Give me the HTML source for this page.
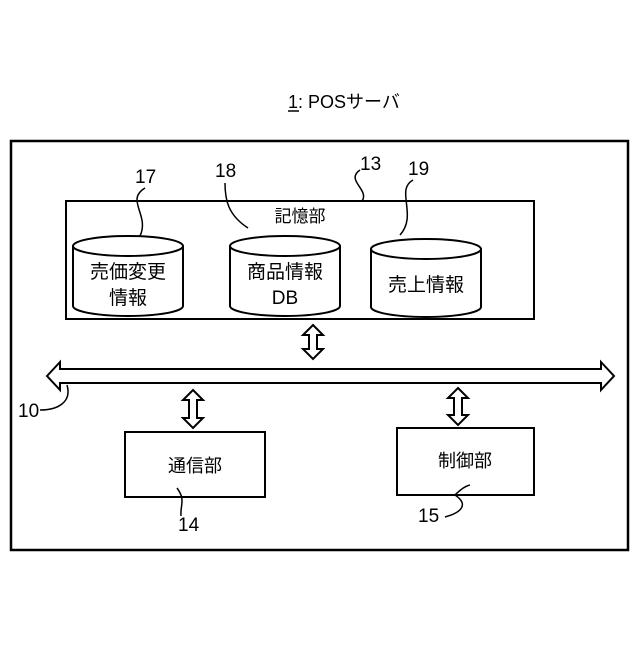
<!DOCTYPE html>
<html><head><meta charset="utf-8"><style>
body{margin:0;background:#fff;}
svg text{font-family:"Liberation Sans","Noto Sans CJK JP",sans-serif;fill:#000;}
</style></head><body>
<svg width="640" height="640" viewBox="0 0 640 640" xmlns="http://www.w3.org/2000/svg">
<rect width="640" height="640" fill="#fff"/>
<text x="288" y="108" font-size="18">1: POSサーバ</text>
<line x1="288" y1="111" x2="299" y2="111" stroke="#000" stroke-width="1.5"/>
<rect x="11" y="141" width="617" height="409" fill="none" stroke="#000" stroke-width="2.5"/>
<rect x="66" y="201" width="468" height="118" fill="none" stroke="#000" stroke-width="2"/>
<text x="300" y="222" font-size="17" text-anchor="middle">記憶部</text>
<!-- cylinders -->
<g fill="#fff" stroke="#000" stroke-width="2">
<path d="M73,246 L73,306 A55,10 0 0 0 183,306 L183,246"/>
<ellipse cx="128" cy="246" rx="55" ry="10"/>
<path d="M230,246 L230,306 A55,10 0 0 0 340,306 L340,246"/>
<ellipse cx="285" cy="246" rx="55" ry="10"/>
<path d="M371,249 L371,307 A55,10 0 0 0 481,307 L481,249"/>
<ellipse cx="426" cy="249" rx="55" ry="10"/>
</g>
<text x="128" y="278" font-size="19" text-anchor="middle">売価変更</text>
<text x="128" y="304" font-size="19" text-anchor="middle">情報</text>
<text x="285" y="278" font-size="19" text-anchor="middle">商品情報</text>
<text x="285" y="304" font-size="19" text-anchor="middle">DB</text>
<text x="426" y="291" font-size="19" text-anchor="middle">売上情報</text>
<!-- ref labels -->
<g font-size="19">
<text x="135" y="183">17</text>
<text x="215" y="177">18</text>
<text x="360" y="170">13</text>
<text x="408" y="175">19</text>
<text x="18" y="417">10</text>
<text x="178" y="531">14</text>
<text x="418" y="522">15</text>
</g>
<g fill="none" stroke="#000" stroke-width="1.5">
<path d="M145,188 C125,200 150,215 140,236"/>
<path d="M225,183 C225,200 228,215 248,228"/>
<path d="M360,170 C345,180 370,190 362,201"/>
<path d="M413,180 C395,190 418,215 400,235"/>
<path d="M40,410 C58,410 72,402 67,385"/>
<path d="M181,516 C180,505 186,500 177,488"/>
<path d="M445,517 C460,513 470,505 455,495 C460,490 465,486 470,485"/>
</g>
<!-- bus -->
<path d="M47,376 L60,362 L60,369 L601,369 L601,362 L614,376 L601,390 L601,383 L60,383 L60,390 Z" fill="#fff" stroke="#000" stroke-width="2"/>
<!-- vertical double arrows -->
<g fill="#fff" stroke="#000" stroke-width="2">
<path d="M313,325 L323,335 L317,335 L317,349 L323,349 L313,359 L303,349 L309,349 L309,335 L303,335 Z"/>
<path d="M193,390 L203,400 L197,400 L197,418 L203,418 L193,428 L183,418 L189,418 L189,400 L183,400 Z"/>
<path d="M458,388 L468,398 L462,398 L462,415 L468,415 L458,425 L448,415 L454,415 L454,398 L448,398 Z"/>
</g>
<rect x="125" y="432" width="140" height="65" fill="none" stroke="#000" stroke-width="2"/>
<text x="195" y="472" font-size="18" text-anchor="middle">通信部</text>
<rect x="397" y="428" width="137" height="67" fill="none" stroke="#000" stroke-width="2"/>
<text x="465" y="467" font-size="18" text-anchor="middle">制御部</text>
</svg>
</body></html>
